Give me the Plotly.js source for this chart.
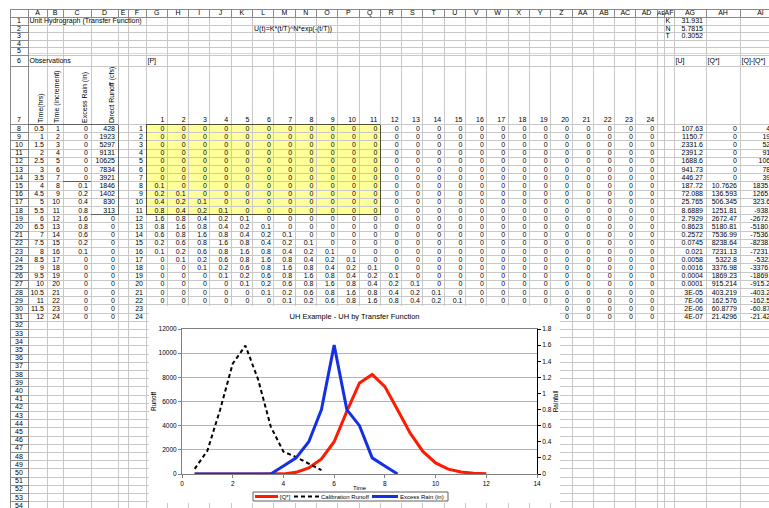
<!DOCTYPE html>
<html><head><meta charset="utf-8">
<script src="https://cdn.plot.ly/plotly-3.0.1.min.js"></script>
<style>
html,body{margin:0;padding:0;background:#fff;}
#sheet{position:absolute;left:0;top:0;width:769px;height:508px;overflow:hidden;font-family:"Liberation Sans",Arial,sans-serif;font-size:7px;color:#000;}
.c{position:absolute;white-space:nowrap;}
.ln{position:absolute;}
#chart{position:absolute;left:149px;top:306px;width:411px;height:197px;background:#fff;z-index:5;}
</style></head><body>
<div id="sheet"></div>
<div id="chart"></div>
<script>
// ---------------- data ----------------
const timeHrs = [0.5,1,1.5,2,2.5,3,3.5,4,4.5,5,5.5,6,6.5,7,7.5,8,8.5,9,9.5,10,10.5,11,11.5,12];
const timeIncrement = [1,2,3,4,5,6,7,8,9,10,11,12,13,14,15,16,17,18,19,20,21,22,23,24];
const excessRain = [0,0,0,0,0,0,0,0.1,0.2,0.4,0.8,1.6,0.8,0.6,0.2,0.1,0,0,0,0,0,0,0,0];
const directRunoff = [428,1923,5297,9131,10625,7834,3921,1846,1402,830,313,0,0,0,0,0,0,0,0,0,0,0,0,0];
const uhU = [107.63,1150.7,2331.6,2391.2,1688.6,941.73,446.27,187.72,72.088,25.765,8.6889,2.7929,0.8623,0.2572,0.0745,0.021,0.0058,0.0016,0.0004,0.0001,3e-5,7e-6,2e-6,4e-7];
const qStar = [0,0,0,0,0,0,0,10.7626,136.593,506.345,1251.81,2672.47,5180.81,7536.99,8238.64,7231.13,5322.8,3376.98,1869.23,915.214,403.219,162.576,60.8779,21.4296];
const paramNames = ['K','N','T'];
const paramValues = [31.931,5.7815,0.3052];
const calibrationCount = 11;   // rows of observed runoff used by the chart
const rainCount = 17;          // rows of excess rain used by the chart
const seriesNames = ['[Q*]','Calibration Runoff','Excess Rain (in)'];

// ---------------- sheet geometry ----------------
const sheet = document.getElementById('sheet');
const letters = [];
for (let i=0;i<35;i++){ letters.push(i<26 ? String.fromCharCode(65+i) : 'A'+String.fromCharCode(65+i-26)); }
const colE = [28,47,63,91,118,128,146];
for (let k=1;k<=24;k++) colE.push(146+21.3*k);
colE.push(664,674,706,740,781);
const rowE = [9,17,25,32,40,47,55,66,124.5];
for (let n=9;n<=56;n++) rowE.push(124.5+(n-8)*8.2);

function add(cls, st, text){
  const d=document.createElement('div'); d.className=cls;
  for (const k in st) d.style[k]=(typeof st[k]==='number')?st[k]+'px':st[k];
  if(text!=null) d.textContent=text; sheet.appendChild(d); return d;
}
function hline(x0,x1,y,c,w){add('ln',{left:x0,top:y-0.5,width:x1-x0,height:w||1,background:c});}
function vline(x,y0,y1,c,w){add('ln',{left:x-0.5,top:y0,width:w||1,height:y1-y0,background:c});}

add('ln',{left:colE[6],top:rowE[8],width:colE[17]-colE[6],height:rowE[19]-rowE[8],background:'#ffff99'});

const GRID='#c8c8c8', HDR='#8a8a8a';
for (let n=1;n<rowE.length;n++){ hline(28,769,rowE[n],GRID); hline(10,28,rowE[n],HDR); }
hline(28,769,rowE[6]-2,'#d8d8d8');
for (let c=0;c<colE.length;c++){ vline(colE[c],17,508,GRID); vline(colE[c],9,17,HDR); }
hline(10,769,9,HDR); hline(10,769,17,HDR); vline(10,9,508,HDR); vline(28,9,508,HDR);

const bc='#505030';
hline(colE[6],colE[17],rowE[8],bc); hline(colE[6],colE[17],rowE[19],bc);
vline(colE[6],rowE[8],rowE[19],bc); vline(colE[17],rowE[8],rowE[19],bc);
hline(colE[0],colE[4],rowE[8],'#606060');
hline(colE[2],colE[3],rowE[15],'#606060');
vline(colE[4],rowE[8],rowE[19],'#606060');
hline(colE[3],colE[4],rowE[19],'#606060');

function cell(c,r,text,align){
  const x0=colE[c], x1=colE[c+1], y0=rowE[r], y1=rowE[r+1];
  const st={top:y0,height:y1-y0,lineHeight:(y1-y0)+'px'};
  if(align==='right'){ st.left=x0; st.width=x1-x0-3; st.textAlign='right'; }
  else { st.left=x0+1.5; }
  return add('c',st,text);
}
function fmt(v){
  if(v===0) return '0';
  if(Math.abs(v)<1e-4){ const m=v.toExponential(0).split('e'); const e=parseInt(m[1],10); return m[0]+'E'+(e<0?'-':'+')+String(Math.abs(e)).padStart(2,'0'); }
  return String(parseFloat(v.toPrecision(6)));
}

for (let c=0;c<35;c++){
  const w=colE[c+1]-colE[c];
  add('c',{left:colE[c],top:9,width:w,height:8,lineHeight:'8px',textAlign:'center',overflow:(w<10?'hidden':'visible'),fontSize:(w<10?'6px':'7px')},letters[c]);
}
for (let r=1;r<=55;r++){
  const y0=rowE[r], y1=rowE[r+1];
  const st={left:10,width:18,textAlign:'center',top:y0,height:y1-y0,lineHeight:(y1-y0)+'px'};
  if(r===7){ st.lineHeight='8px'; st.top=y1-9; st.height=8; }
  add('c',st,String(r));
}

cell(0,1,'Unit Hydrograph (Transfer Function)','left');
cell(11,2,'U(t)=K*(t/T)^N*exp(-(t/T))','left');
for (let i=0;i<3;i++){ cell(31,i+1,paramNames[i],'left'); cell(32,i+1,fmt(paramValues[i]),'right'); }
cell(0,6,'Observations','left');
cell(6,6,'[P]','left');
cell(32,6,'[U]','left');
cell(33,6,'[Q*]','left');
cell(34,6,'[Q]-[Q*]','left');

const rotHdr=['Time(hrs)','Time (increment)','Excess Rain (in)','Direct Runoff (cfs)'];
for (let c=0;c<4;c++){
  add('c',{left:colE[c+1]-2-8,top:rowE[8]-2,height:8,lineHeight:'8px',transformOrigin:'0 0',transform:'rotate(-90deg)'},rotHdr[c]);
}
for (let j=0;j<24;j++){
  add('c',{left:colE[6+j],width:colE[7+j]-colE[6+j]-3,textAlign:'right',top:rowE[8]-9,height:8,lineHeight:'8px'},String(j+1));
}

for (let i=0;i<24;i++){
  const r=8+i;
  cell(0,r,fmt(timeHrs[i]),'right');
  cell(1,r,String(timeIncrement[i]),'right');
  cell(2,r,fmt(excessRain[i]),'right');
  cell(3,r,fmt(directRunoff[i]),'right');
  cell(5,r,String(i+1),'right');
  for (let j=0;j<24;j++){
    const v = (i>=j) ? excessRain[i-j] : 0;
    cell(6+j,r,fmt(v),'right');
  }
  cell(32,r,fmt(uhU[i]),'right');
  cell(33,r,fmt(qStar[i]),'right');
  cell(34,r,fmt(directRunoff[i]-qStar[i]),'right');
}

// ---------------- chart ----------------
const W=411, H=197, M={l:33,r:23,t:23,b:29};
const styles = [
  {color:'#ff1a00', width:3, dash:'solid'},
  {color:'#000000', width:2, dash:'4px,3px'},
  {color:'#1430e6', width:3, dash:'solid'}
];
const traces = [
  {x:timeHrs, y:qStar, name:seriesNames[0], mode:'lines', line:styles[0]},
  {x:timeHrs.slice(0,calibrationCount), y:directRunoff.slice(0,calibrationCount), name:seriesNames[1], mode:'lines', line:styles[1]},
  {x:timeHrs.slice(0,rainCount), y:excessRain.slice(0,rainCount), name:seriesNames[2], mode:'lines', yaxis:'y2', line:styles[2]}
];
// compact Excel-style legend in chart pixel coordinates
const pw=W-M.l-M.r, ph=H-M.t-M.b;
const px=x=>(x-M.l)/pw, py=y=>(H-M.b-y)/ph;
const legBox={x0:104,x1:299,y0:186,y1:195};
const legItems=[{s:106,e:129,t:130},{s:145,e:170,t:171},{s:223,e:249,t:250}];
const shapes=[{type:'rect',xref:'paper',yref:'paper',x0:px(legBox.x0),x1:px(legBox.x1),y0:py(legBox.y1),y1:py(legBox.y0),line:{color:'#606060',width:1},fillcolor:'#ffffff',layer:'above'}];
const annotations=[];
const ym=(legBox.y0+legBox.y1)/2;
legItems.forEach((it,i)=>{
  shapes.push({type:'line',xref:'paper',yref:'paper',x0:px(it.s),x1:px(it.e),y0:py(ym),y1:py(ym),line:{color:styles[i].color,width:styles[i].width,dash:styles[i].dash},layer:'above'});
  annotations.push({xref:'paper',yref:'paper',x:px(it.t),y:py(ym),xanchor:'left',yanchor:'middle',text:seriesNames[i],showarrow:false,font:{size:6},borderpad:0});
});
const layout = {
  width:W, height:H, margin:Object.assign({autoexpand:false},M),
  paper_bgcolor:'#ffffff', plot_bgcolor:'#ffffff',
  font:{family:'"Liberation Sans", Arial, sans-serif', size:6.5, color:'#000'},
  title:{text:'UH Example - UH by Transfer Function', font:{size:7.5}, x:0.5, xref:'container', xanchor:'center', y:1-10/H, yref:'container', yanchor:'middle'},
  xaxis:{range:[0,14], tick0:0, dtick:2, ticks:'outside', ticklen:3, tickcolor:'#808080', showline:true, linecolor:'#808080', mirror:true, showgrid:false, zeroline:false, automargin:false, title:{text:'Time', font:{size:6}, standoff:0}},
  yaxis:{range:[0,12000], tick0:0, dtick:2000, tickformat:'d', ticks:'outside', ticklen:3, tickcolor:'#808080', showline:true, linecolor:'#808080', mirror:true, gridcolor:'#b4b4b4', zeroline:false, automargin:false, title:{text:'Runoff', font:{size:6.5}, standoff:1}},
  yaxis2:{overlaying:'y', side:'right', range:[0,1.8], tick0:0, dtick:0.2, ticks:'outside', ticklen:3, tickcolor:'#000', showline:true, linecolor:'#000', showgrid:false, zeroline:false, automargin:false, title:{text:'Rainfall', font:{size:6.5}, standoff:1}},
  showlegend:false, shapes:shapes, annotations:annotations
};
Plotly.newPlot('chart', traces, layout, {staticPlot:true, displayModeBar:false});
</script>
</body></html>
